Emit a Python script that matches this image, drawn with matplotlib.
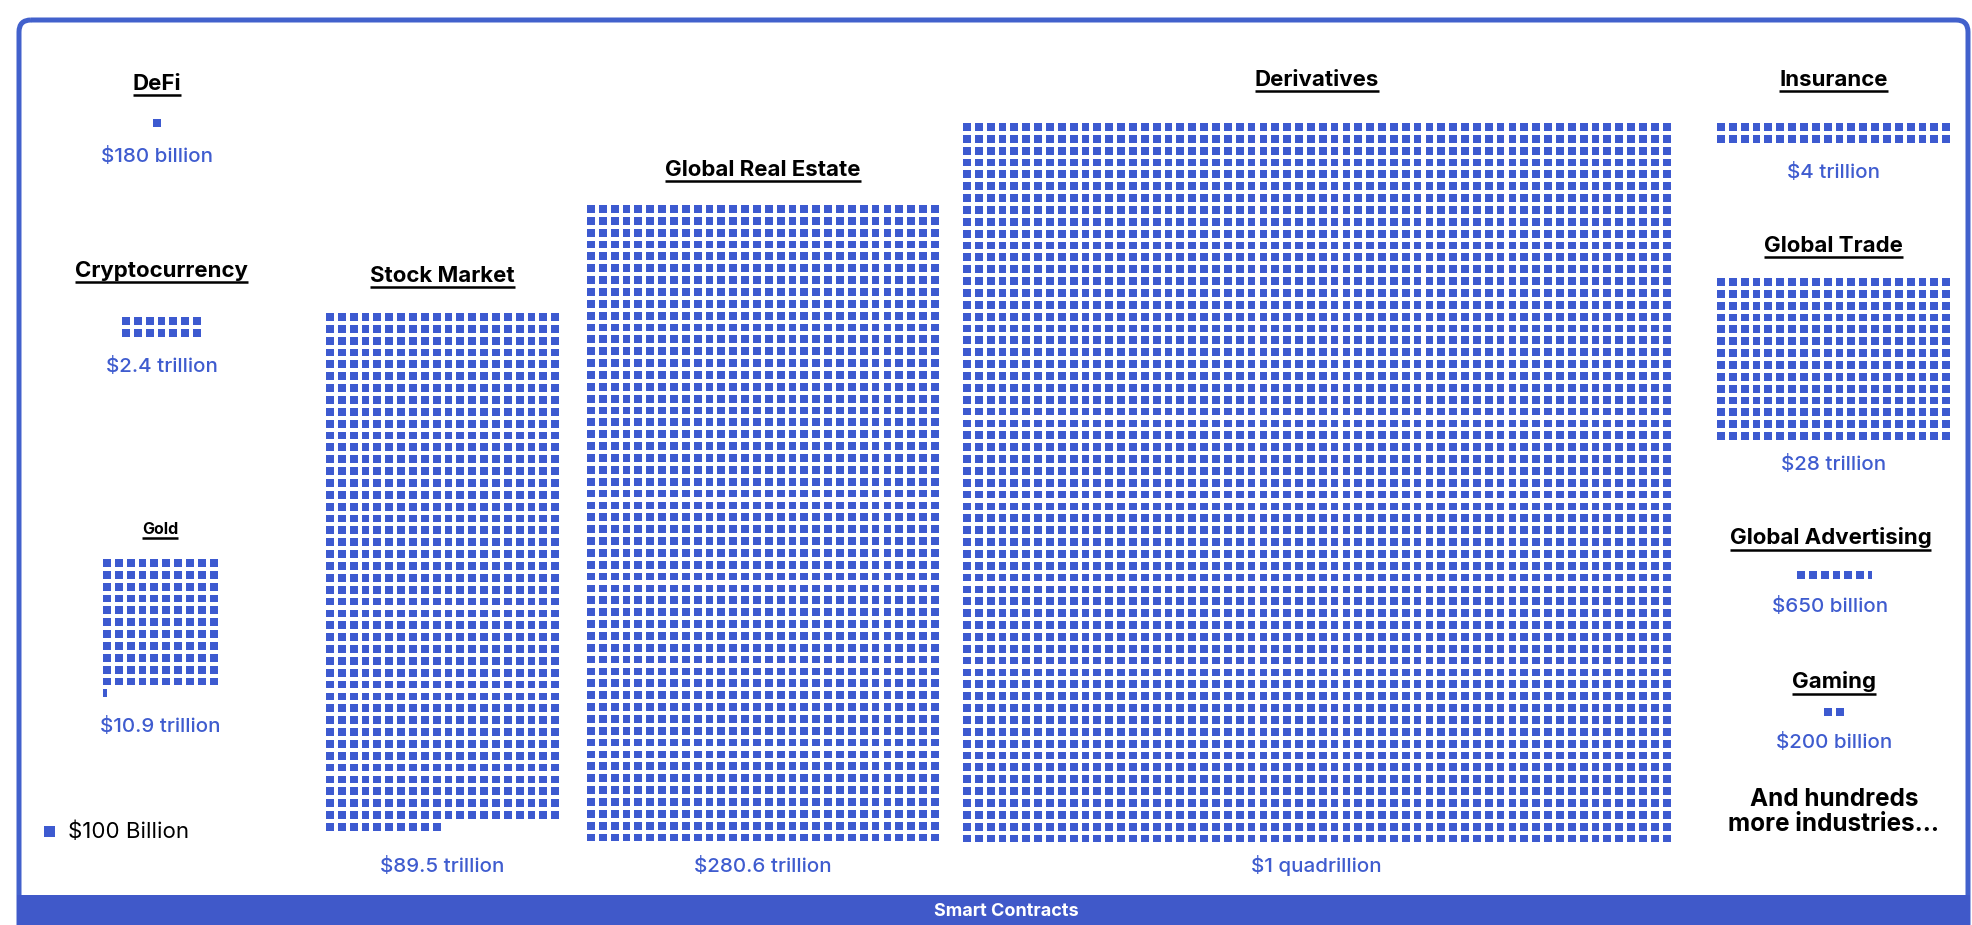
import matplotlib.pyplot as plt
from matplotlib.collections import PatchCollection
from matplotlib.patches import FancyBboxPatch, Rectangle

# ─────────────────────────────────────────────────────────────
# Datos (cada cuadrado = $100 mil millones, tal como se dibuja)
# ─────────────────────────────────────────────────────────────
categorias = ["DeFi", "Cryptocurrency", "Gold", "Stock Market", "Global Real Estate",
              "Derivatives", "Insurance", "Global Trade", "Global Advertising", "Gaming"]
etiquetas_valor = ["$180 billion", "$2.4 trillion", "$10.9 trillion", "$89.5 trillion",
                   "$280.6 trillion", "$1 quadrillion", "$4 trillion", "$28 trillion",
                   "$650 billion", "$200 billion"]
cuadrados = [1, 14, 110.5, 870, 1620, 3660, 40, 280, 6.5, 2]
columnas = [1, 7, 10, 20, 30, 60, 20, 20, 7, 2]

# ─────────────────────────────────────────────────────────────
# Layout (px, origen arriba-izquierda)
# ─────────────────────────────────────────────────────────────
PITCH = 11.86
SIZE = 7.8
AZUL = "#3d5ad0"
AZUL_TXT = "#3f5ccf"

# (x0 grid, y0 grid, y título, y valor, tamaño título)
layout = {
    "DeFi":               (153.0, 119.0, 84, 157, 16),
    "Cryptocurrency":     (122.0, 317.0, 271, 366, 16),
    "Gold":               (103.0, 559.0, 529, 727, 11.5),
    "Stock Market":       (326.0, 313.0, 276, 866, 16),
    "Global Real Estate": (587.0, 205.0, 170, 867, 16),
    "Derivatives":        (963.0, 123.0, 80, 866, 16),
    "Insurance":          (1717.0, 123.0, 80, 172, 16),
    "Global Trade":       (1717.0, 278.0, 246, 465, 16),
    "Global Advertising": (1797.0, 571.0, 538, 607, 16),
    "Gaming":             (1824.0, 708.0, 682, 742, 16),
}

FUENTE = ["Inter", "DejaVu Sans"]

fig = plt.figure(figsize=(19.72, 9.25), dpi=100)
ax = fig.add_axes([0, 0, 1, 1])
ax.set_xlim(0, 1972)
ax.set_ylim(925, 0)
ax.axis("off")


def dibujar_unidades(x0, y0, n, cols):
    parches = []
    enteros = int(n)
    for i in range(enteros):
        r, c = divmod(i, cols)
        parches.append(Rectangle((x0 + c * PITCH, y0 + r * PITCH), SIZE, SIZE))
    frac = n - enteros
    if frac > 0:
        r, c = divmod(enteros, cols)
        parches.append(Rectangle((x0 + c * PITCH, y0 + r * PITCH), SIZE * frac, SIZE))
    ax.add_collection(PatchCollection(parches, facecolor=AZUL, edgecolor="none"))
    ancho = (min(enteros, cols) - 1) * PITCH + SIZE
    return x0 + ancho / 2


titulos = []
for cat, val, n, cols in zip(categorias, etiquetas_valor, cuadrados, columnas):
    x0, y0, yt, yv, fs = layout[cat]
    xc = dibujar_unidades(x0, y0, n, cols)
    t = ax.text(xc, yt, cat, ha="center", va="center", fontsize=fs,
                fontweight="bold", color="black", family=FUENTE)
    titulos.append(t)
    ax.text(xc, yv, val, ha="center", va="center", fontsize=14.8,
            color=AZUL_TXT, family=FUENTE, fontweight="medium")

# Texto extra
ax.text(1834, 812, "And hundreds\nmore industries...", ha="center", va="center",
        fontsize=17.5, fontweight="bold", color="black", family=FUENTE, linespacing=1.1)

# Leyenda
ax.add_patch(Rectangle((44, 826), 11, 11, facecolor=AZUL, edgecolor="none"))
ax.text(68, 832, "$100 Billion", ha="left", va="center", fontsize=16,
        color="black", family=FUENTE)

# Marco y barra inferior
ax.add_patch(FancyBboxPatch((19, 20), 1949, 940, boxstyle="round,pad=0,rounding_size=12",
                            facecolor="none", edgecolor="#4261cc", linewidth=3.6))
ax.add_patch(Rectangle((17, 895), 1953, 40, facecolor="#4059c9", edgecolor="none"))
ax.text(1006, 912, "Smart Contracts", ha="center", va="center", fontsize=13,
        fontweight="bold", color="white", family=FUENTE)

# Subrayado de títulos
fig.canvas.draw()
renderer = fig.canvas.get_renderer()
inv = ax.transData.inverted()
for t in titulos:
    bb = t.get_window_extent(renderer)
    (xa, ya), (xb, yb) = inv.transform([(bb.x0, bb.y0), (bb.x1, bb.y1)])
    ax.plot([xa, xb], [ya + 1, ya + 1], color="black", linewidth=1.8,
            solid_capstyle="butt")

fig.savefig("out.png", dpi=100)
